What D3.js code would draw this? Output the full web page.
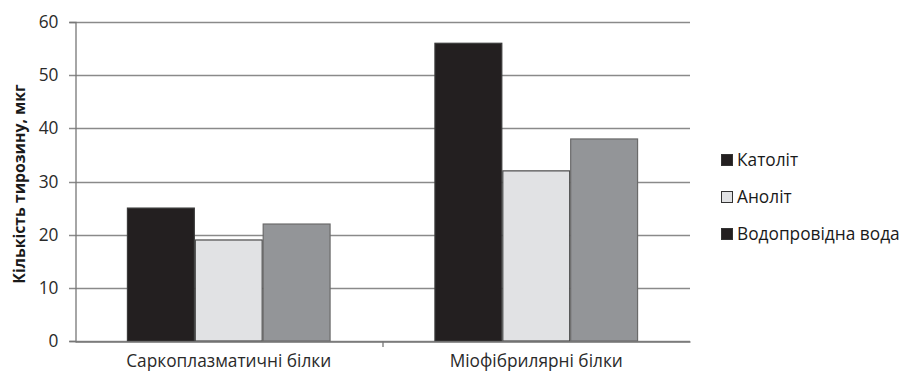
<!DOCTYPE html>
<html>
<head>
<meta charset="utf-8">
<script src="https://cdn.jsdelivr.net/npm/d3@7"></script>
<style>
  html, body { margin: 0; padding: 0; background: #fff; }
  svg { display: block; font-family: "Open Sans", "Noto Sans", sans-serif; }
</style>
</head>
<body>
<svg id="chart" width="914" height="374"></svg>
<script>
// Protein groups on the x axis
const categories = ["Саркоплазматичні білки", "Міофібрилярні білки"];
// Treatment series
const seriesNames = ["Католіт", "Аноліт", "Водопровідна вода"];
// Tyrosine content per series, one value per category
const katolit = [25, 56];
const anolit = [19, 32];
const vodaValues = [22, 38];
const yTicks = [0, 10, 20, 30, 40, 50, 60];

const seriesValues = [katolit, anolit, vodaValues];
const fills = ["#231f20", "#e1e2e4", "#939598"];
const strokes = ["#3a3a3a", "#4a4a4a", "#6a6a6a"];
const legendFills = ["#231f20", "#e1e2e4", "#231f20"];

const svg = d3.select("#chart");
const margin = { left: 75, right: 224, top: 22, bottom: 33 };
const W = 914, H = 374;
const labelSize = 17.3;

const x0 = d3.scaleBand().domain(categories).range([margin.left, W - margin.right]).padding(0);
const x1 = d3.scaleBand().domain(seriesNames).range([0, x0.bandwidth()]).paddingOuter(0.765).paddingInner(0);
const y = d3.scaleLinear().domain([0, 60]).range([H - margin.bottom, margin.top]);

// horizontal gridlines
svg.append("g")
  .selectAll("line")
  .data(yTicks)
  .join("line")
  .attr("x1", margin.left - 6)
  .attr("x2", W - margin.right)
  .attr("y1", d => Math.round(y(d)) + 0.5)
  .attr("y2", d => Math.round(y(d)) + 0.5)
  .attr("stroke", "#8a8a8a")
  .attr("stroke-width", 1.3);

// bars
const groups = svg.append("g")
  .selectAll("g")
  .data(categories)
  .join("g")
  .attr("transform", d => `translate(${x0(d)},0)`);

groups.selectAll("rect")
  .data((c, ci) => seriesNames.map((s, si) => ({ s, si, v: seriesValues[si][ci] })))
  .join("rect")
  .attr("x", d => x1(d.s) + 0.5)
  .attr("width", x1.bandwidth() - 1)
  .attr("y", d => y(d.v))
  .attr("height", d => y(0) - y(d.v))
  .attr("fill", d => fills[d.si])
  .attr("stroke", d => strokes[d.si])
  .attr("stroke-width", 1.2);

// y axis
const yAxis = d3.axisLeft(y).tickValues(yTicks).tickSize(6).tickPadding(11);
const gy = svg.append("g")
  .attr("transform", `translate(${margin.left + 0.5},0)`)
  .call(yAxis);
gy.select(".domain").attr("stroke", "#777").attr("stroke-width", 1.3);
gy.selectAll(".tick line").remove();
gy.selectAll(".tick text")
  .attr("font-size", labelSize)
  .attr("fill", "#2a2a2a")
  .attr("font-family", "'Open Sans', sans-serif");

// x axis baseline and category labels
const xAxis = d3.axisBottom(x0).tickSize(0).tickPadding(13);
const gx = svg.append("g")
  .attr("transform", `translate(0,${Math.round(y(0)) + 0.5})`)
  .call(xAxis);
gx.select(".domain").attr("stroke", "#777").attr("stroke-width", 1.3);
gx.selectAll(".tick text")
  .attr("font-size", labelSize)
  .attr("fill", "#2a2a2a")
  .attr("font-family", "'Open Sans', sans-serif");

// separator tick between category groups
svg.append("line")
  .attr("x1", x0(categories[1]) + 0.5)
  .attr("x2", x0(categories[1]) + 0.5)
  .attr("y1", y(0))
  .attr("y2", y(0) + 6)
  .attr("stroke", "#777")
  .attr("stroke-width", 1.3);

// y axis title
svg.append("text")
  .attr("transform", `translate(25,184) rotate(-90)`)
  .attr("text-anchor", "middle")
  .attr("font-size", 15.8)
  .attr("font-weight", "bold")
  .attr("fill", "#1a1a1a")
  .text("Кількість тирозину, мкг");

// legend
const legend = svg.append("g").attr("transform", "translate(721,160)");
const rows = legend.selectAll("g")
  .data(seriesNames)
  .join("g")
  .attr("transform", (d, i) => `translate(0,${i * 37})`);
rows.append("rect")
  .attr("x", 0.5).attr("y", -5.5)
  .attr("width", 11).attr("height", 11)
  .attr("fill", (d, i) => legendFills[i])
  .attr("stroke", "#333").attr("stroke-width", 1);
rows.append("text")
  .attr("x", 16)
  .attr("y", 6)
  .attr("font-size", labelSize)
  .attr("fill", "#1a1a1a")
  .text(d => d);
</script>
</body>
</html>
